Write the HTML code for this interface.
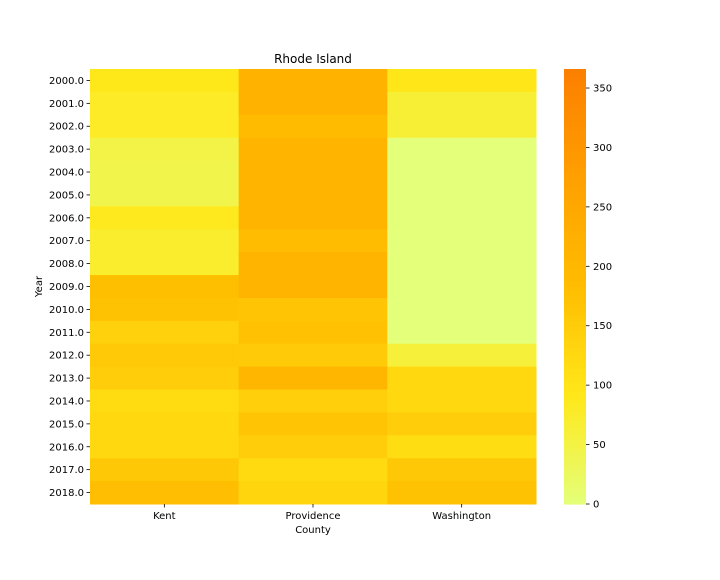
<!DOCTYPE html>
<html><head><meta charset="utf-8"><style>
body{margin:0;background:#fff;font-family:"DejaVu Sans","Liberation Sans",sans-serif}
</style></head><body>
<svg id="c" width="720" height="576" xmlns="http://www.w3.org/2000/svg" font-family="DejaVu Sans, Liberation Sans, sans-serif"></svg>
<script>
const years=["2000.0","2001.0","2002.0","2003.0","2004.0","2005.0","2006.0","2007.0","2008.0","2009.0","2010.0","2011.0","2012.0","2013.0","2014.0","2015.0","2016.0","2017.0","2018.0"];
const counties=["Kent","Providence","Washington"];
const kent=[92,80,80,50,45,45,88,72,72,178,172,140,158,148,120,125,125,160,180];
const providence=[215,215,190,210,210,210,210,185,210,210,165,175,155,205,145,165,150,122,132];
const washington=[95,65,65,0,0,0,0,0,0,0,0,0,60,125,125,150,115,160,172];
const cbTicks=[0,50,100,150,200,250,300,350];
const vmax=366;
const series=[kent,providence,washington];
const svg=document.getElementById('c');
const NS='http://www.w3.org/2000/svg';
const L=90,R=536,T=69,B=504;
const cw=(R-L)/counties.length, rh=(B-T)/years.length;
const stops=[[0,[228,255,122]],[0.25,[255,232,26]],[0.5,[255,189,0]],[0.75,[255,160,0]],[1,[252,127,0]]];
function cmap(v){let t=Math.max(0,Math.min(1,v/vmax));for(let i=1;i<stops.length;i++){if(t<=stops[i][0]){const a=stops[i-1],b=stops[i];const f=(t-a[0])/(b[0]-a[0]);return 'rgb('+a[1].map((x,k)=>Math.round(x+(b[1][k]-x)*f)).join(',')+')';}}return 'rgb(252,127,0)';}
function el(tag,attrs,txt){const e=document.createElementNS(NS,tag);for(const k in attrs)e.setAttribute(k,attrs[k]);if(txt!==undefined)e.textContent=txt;svg.appendChild(e);return e;}
series.forEach((s,ci)=>{s.forEach((v,ri)=>{
 const r=el('rect',{x:L+ci*cw,y:T+ri*rh,width:cw+0.5,height:rh+0.5,fill:cmap(v)});
 
 
});});
years.forEach((y,ri)=>{
 const yy=T+(ri+0.5)*rh;
 const tk=el('line',{x1:L-3.5,x2:L,y1:yy,y2:yy,stroke:'#000','stroke-width':0.8});
 
 
 const t=el('text',{x:L-6,y:yy+3.5,'font-size':10,'text-anchor':'end'},y);
 
 
});
counties.forEach((c,ci)=>{
 const xx=L+(ci+0.5)*cw;
 const tk=el('line',{x1:xx,x2:xx,y1:B,y2:B+3.5,stroke:'#000','stroke-width':0.8});
 
 
 const t=el('text',{x:xx,y:B+15,'font-size':10,'text-anchor':'middle'},c);
 
 
});
let e;
e=el('text',{x:(L+R)/2,y:63,'font-size':12,'text-anchor':'middle'},'Rhode Island');

e=el('text',{x:(L+R)/2,y:533,'font-size':10,'text-anchor':'middle'},'County');

e=el('text',{x:42,y:(T+B)/2,'font-size':10,'text-anchor':'middle',transform:'rotate(-90 42 '+(T+B)/2+')'},'Year');

const CX=564,CW=22,N=100;
for(let i=0;i<N;i++){
 const v0=vmax*i/N;
 const y1=B-(B-T)*(i+1)/N;
 const r=el('rect',{x:CX,y:y1,width:CW,height:(B-T)/N+0.6,fill:cmap(v0+vmax/N/2)});
 
 
}
cbTicks.forEach(v=>{
 const yy=B-(B-T)*v/vmax;
 const tk=el('line',{x1:CX+CW,x2:CX+CW+3.5,y1:yy,y2:yy,stroke:'#000','stroke-width':0.8});
 
 
 const t=el('text',{x:CX+CW+7,y:yy+3.5,'font-size':10},String(v));
 
 
});
</script>
</body></html>
